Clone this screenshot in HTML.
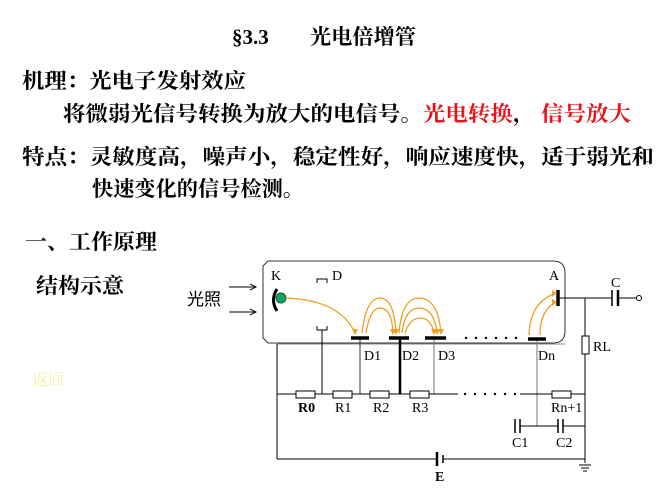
<!DOCTYPE html>
<html><head><meta charset="utf-8"><style>
html,body{margin:0;padding:0;background:#fff;width:668px;height:502px;overflow:hidden}
svg{display:block}
.t{font-family:"Liberation Serif","Noto Serif CJK SC",serif;font-weight:bold;font-size:21px;fill:#000}
.l{font-family:"Liberation Serif","Noto Serif CJK SC",serif;font-size:14px;fill:#000}
</style></head><body>
<svg width="668" height="502" viewBox="0 0 668 502" xmlns="http://www.w3.org/2000/svg">
<text class="t" x="232" y="44" font-size="19">§3.3</text>
<text class="t" x="310" y="44" font-size="19" textLength="106" lengthAdjust="spacingAndGlyphs">光电倍增管</text>
<text class="t" x="22" y="88" textLength="224" lengthAdjust="spacingAndGlyphs">机理：光电子发射效应</text>
<text class="t" x="63" y="121" textLength="568" lengthAdjust="spacingAndGlyphs">将微弱光信号转换为放大的电信号。<tspan fill="#e8141a">光电转换</tspan>， <tspan fill="#e8141a">信号放大</tspan></text>
<text class="t" x="22" y="164" textLength="632" lengthAdjust="spacingAndGlyphs">特点：灵敏度高，噪声小，稳定性好，响应速度快，适于弱光和</text>
<text class="t" x="92" y="196" textLength="212" lengthAdjust="spacingAndGlyphs">快速变化的信号检测。</text>
<text class="t" x="25" y="249" textLength="132" lengthAdjust="spacingAndGlyphs">一、工作原理</text>
<text class="t" x="36" y="293" textLength="88" lengthAdjust="spacingAndGlyphs">结构示意</text>
<text x="32" y="385" font-family="Liberation Serif,Noto Serif CJK SC,serif" font-size="16" fill="#f4f0a0">返回</text>

<g fill="none" stroke="#000" stroke-width="1">
<path d="M268 261 H553 Q565 261 565 273 V331 Q565 343 553 343 H268 L263 338 V266 Z" stroke="#333"/>
<line x1="277" y1="344" x2="565" y2="344" stroke="#888"/>
<line x1="229" y1="287" x2="256" y2="287"/><path d="M250 284 L256 287 L250 290"/>
<line x1="229" y1="312" x2="256" y2="312"/><path d="M250 309 L256 312 L250 315"/>
<path d="M317 283 V279 H327 V283"/>
<path d="M317 326 V330 H327 V326"/>
<line x1="322" y1="330" x2="322" y2="394"/>
<line x1="360" y1="338" x2="360" y2="394" stroke="#333"/>
<line x1="400" y1="338" x2="400" y2="394" stroke-width="2.5"/>
<line x1="434" y1="338" x2="434" y2="394" stroke="#777"/>
<line x1="537" y1="339" x2="537" y2="426" stroke="#777"/>
<line x1="277" y1="394" x2="458" y2="394"/>
<line x1="520" y1="394" x2="585" y2="394"/>
<line x1="277" y1="344" x2="277" y2="459"/>
<line x1="277" y1="459" x2="437" y2="459"/>
<line x1="443" y1="459" x2="585" y2="459"/>
<line x1="558" y1="298" x2="612" y2="298"/>
<line x1="618" y1="298" x2="636" y2="298"/>
<circle cx="639" cy="298" r="2.5"/>
<line x1="585" y1="298" x2="585" y2="463"/>
<line x1="520" y1="426" x2="558" y2="426"/>
<line x1="563" y1="426" x2="585" y2="426"/>
<line x1="579" y1="465" x2="591" y2="465"/><line x1="581" y1="468" x2="589" y2="468"/><line x1="583" y1="471" x2="587" y2="471"/>
</g>
<g fill="#fff" stroke="#000">
<rect x="296" y="391" width="19" height="7"/>
<rect x="333" y="391" width="19" height="7"/>
<rect x="370" y="391" width="19" height="7"/>
<rect x="410" y="391" width="19" height="7"/>
<rect x="552" y="391" width="19" height="7"/>
<rect x="582" y="336" width="7" height="18"/>
</g>
<g stroke="#000" stroke-width="1.5">
<line x1="612" y1="290" x2="612" y2="306"/><line x1="618" y1="290" x2="618" y2="306" stroke-width="2.5"/>
<line x1="515" y1="419" x2="515" y2="433"/><line x1="520" y1="419" x2="520" y2="433"/>
<line x1="558" y1="419" x2="558" y2="433"/><line x1="563" y1="419" x2="563" y2="433"/>
<line x1="437" y1="452" x2="437" y2="466" stroke-width="2.5"/><line x1="443" y1="455" x2="443" y2="463"/>
</g>
<g stroke="#000" stroke-width="3.5">
<line x1="351" y1="338" x2="369" y2="338"/>
<line x1="389" y1="338" x2="409" y2="338"/>
<line x1="425" y1="338" x2="446" y2="338"/>
<line x1="528" y1="339" x2="546" y2="339"/>
<line x1="558" y1="290" x2="558" y2="306"/>
</g>
<g fill="#000">
<circle cx="466" cy="338" r="1.2"/><circle cx="476" cy="338" r="1.2"/><circle cx="486" cy="338" r="1.2"/><circle cx="496" cy="338" r="1.2"/><circle cx="506" cy="338" r="1.2"/><circle cx="516" cy="338" r="1.2"/>
<circle cx="465" cy="394" r="1.2"/><circle cx="475" cy="394" r="1.2"/><circle cx="485" cy="394" r="1.2"/><circle cx="495" cy="394" r="1.2"/><circle cx="505" cy="394" r="1.2"/><circle cx="515" cy="394" r="1.2"/>
</g>
<path d="M277 289 Q270 300 277 311" fill="none" stroke="#000" stroke-width="3"/>
<circle cx="281" cy="298" r="5" fill="#1aa060" stroke="#063" stroke-width="1"/>
<g fill="none" stroke="#f0a020" stroke-width="1.3">
<path d="M286 298 Q340 300 355 333"/>
<path d="M362 333 Q366 298 380 298 Q394 298 396 333"/>
<path d="M366 333 Q370 308 380 308 Q392 308 393 333"/>
<path d="M399 333 Q402 298 419 298 Q438 298 441 333"/>
<path d="M402 333 Q405 308 419 308 Q434 308 437 333"/>
<path d="M405 333 Q410 318 420 318 Q431 318 434 333"/>
<path d="M529 335 Q530 302 556 293"/>
<path d="M540 335 Q540 310 556 302"/>
</g>
<g fill="#f0a020">
<path d="M352 329 L358 329 L355 335Z"/>
<path d="M393 329 L399 329 L396 335Z"/><path d="M390 329 L396 329 L393 335Z"/>
<path d="M438 329 L444 329 L441 335Z"/><path d="M434 329 L440 329 L437 335Z"/><path d="M431 329 L437 329 L434 335Z"/>
<path d="M552 290 L557 293 L552 297Z"/><path d="M552 299 L557 302 L552 306Z"/>
</g>
<text x="187" y="305" font-family="Liberation Sans,WenQuanYi Zen Hei,sans-serif" font-size="17" fill="#000">光照</text>
<text class="l" x="271" y="280">K</text>
<text class="l" x="332" y="280">D</text>
<text class="l" x="549" y="280">A</text>
<text class="l" x="611" y="287">C</text>
<text class="l" x="364" y="360">D1</text>
<text class="l" x="402" y="360">D2</text>
<text class="l" x="438" y="360">D3</text>
<text class="l" x="538" y="360">Dn</text>
<text class="l" x="593" y="351">RL</text>
<text class="l" x="298" y="412" font-weight="bold">R0</text>
<text class="l" x="335" y="412">R1</text>
<text class="l" x="373" y="412">R2</text>
<text class="l" x="412" y="412">R3</text>
<text class="l" x="551" y="412">Rn+1</text>
<text class="l" x="512" y="447">C1</text>
<text class="l" x="556" y="447">C2</text>
<text class="l" x="435" y="481" font-weight="bold">E</text>
</svg>
</body></html>
